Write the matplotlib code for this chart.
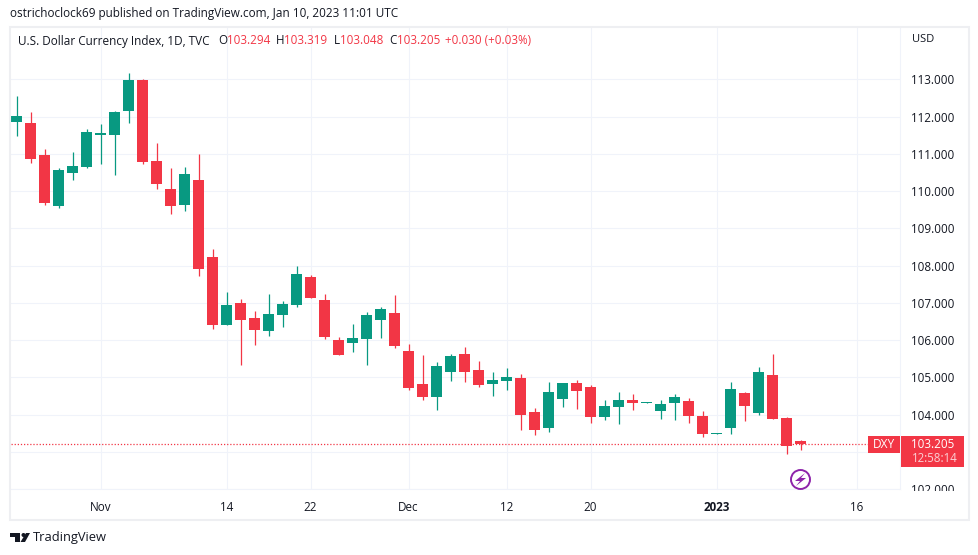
import matplotlib
matplotlib.use("Agg")
import matplotlib.pyplot as plt
from matplotlib.patches import Circle, Polygon, Rectangle
from matplotlib.transforms import Bbox

plt.rcParams["font.family"] = ["Open Sans", "DejaVu Sans"]

# daily candles
opens = [111.85, 111.82, 110.96, 109.61, 110.48, 110.64, 111.50, 111.50, 112.15, 112.98,
         110.80, 110.06, 109.62, 110.30, 108.22, 106.41, 106.99, 106.59, 106.24, 106.67,
         106.94, 107.69, 107.07, 106.00, 105.92, 106.02, 106.53, 106.72, 105.71, 104.82,
         104.47, 105.14, 105.63, 105.20, 104.82, 104.90, 104.98, 104.07, 103.64, 104.42,
         104.85, 104.74, 103.94, 104.20, 104.39, 104.31, 104.09, 104.31, 104.36, 103.97,
         103.48, 103.64, 104.58, 104.04, 105.06, 103.91, 103.294]
highs = [112.55, 112.12, 111.12, 110.61, 111.04, 111.66, 111.80, 112.15, 113.16, 113.00,
         111.29, 110.61, 110.64, 110.99, 108.44, 107.29, 107.10, 106.78, 107.24, 107.05,
         107.99, 107.75, 107.24, 106.08, 106.43, 106.75, 106.88, 107.21, 105.90, 105.60,
         105.41, 105.63, 105.82, 105.44, 105.14, 105.25, 105.09, 104.17, 104.87, 104.85,
         104.93, 104.79, 104.39, 104.60, 104.55, 104.33, 104.39, 104.55, 104.44, 104.09,
         103.51, 104.87, 104.60, 105.28, 105.63, 103.94, 103.319]
lows = [111.47, 110.75, 109.63, 109.55, 110.30, 110.63, 110.72, 110.42, 111.82, 110.72,
        110.06, 109.38, 109.46, 107.72, 106.29, 106.40, 105.33, 105.87, 106.10, 106.35,
        106.88, 107.12, 106.02, 105.59, 105.68, 105.33, 106.05, 105.79, 104.66, 104.39,
        104.12, 104.90, 104.88, 104.74, 104.50, 104.66, 103.59, 103.45, 103.54, 104.20,
        104.15, 103.78, 103.86, 103.75, 104.12, 104.31, 103.89, 103.86, 103.78, 103.40,
        103.48, 103.48, 103.83, 103.99, 103.89, 102.95, 103.048]
closes = [112.01, 110.86, 109.69, 110.57, 110.67, 111.58, 111.56, 112.12, 112.98, 110.77,
          110.19, 109.60, 110.46, 107.92, 106.41, 106.94, 106.53, 106.26, 106.70, 106.97,
          107.77, 107.13, 106.08, 105.60, 106.05, 106.67, 106.83, 105.84, 104.71, 104.47,
          105.30, 105.57, 105.14, 104.79, 104.93, 105.01, 103.99, 103.59, 104.60, 104.85,
          104.63, 103.94, 104.23, 104.39, 104.31, 104.33, 104.28, 104.47, 103.97, 103.48,
          103.51, 104.69, 104.23, 105.14, 103.89, 103.16, 103.205]

date_ticks = [6, 15, 21, 28, 35, 41, 50, 60]
date_labels = ["Nov", "14", "22", "Dec", "12", "20", "2023", "16"]
price_ticks = [102, 104, 105, 106, 107, 108, 109, 110, 111, 112, 113]
grid_prices = [102, 103, 104, 105, 106, 107, 108, 109, 110, 111, 112, 113]
last_price = 103.205

RED = "#F23645"
GREEN = "#089981"
GRID = "#F0F3FA"
TEXT = "#131722"
W, H = 979, 555

fig = plt.figure(figsize=(W / 100, H / 100), dpi=100, facecolor="white")

# price panel, 11..900 px across and 28..489 px down
ax = fig.add_axes([11 / W, 1 - 489 / H, 889 / W, 461 / H])
ax.set_xlim(-0.393, 63.107)
ax.set_ylim(102.008, 114.377)

for p in grid_prices:
    ax.axhline(p, color=GRID, lw=0.8, zorder=0)
for d in date_ticks:
    ax.axvline(d, color=GRID, lw=0.8, zorder=0)

for i in range(len(opens)):
    color = GREEN if closes[i] >= opens[i] else RED
    ax.vlines(i, lows[i], highs[i], color=color, lw=0.9, zorder=2)
    bottom = min(opens[i], closes[i])
    ax.bar(i, abs(closes[i] - opens[i]), bottom=bottom, width=0.79, color=color, lw=0, zorder=3)

ax.axhline(last_price, color=RED, lw=0.9, ls=(0, (1, 1.5)), zorder=4)

ax.yaxis.tick_right()
ax.set_yticks(price_ticks)
ax.set_yticklabels([f"{p:.3f}" for p in price_ticks], fontsize=8.4, color=TEXT)
ax.set_xticks(date_ticks)
ax.set_xticklabels(date_labels, fontsize=8.4, color=TEXT)
ax.get_xticklabels()[6].set_fontweight("bold")
ax.tick_params(axis="both", length=0)
ax.tick_params(axis="y", pad=8)
ax.tick_params(axis="x", pad=8.5)
for side in ["top", "left"]:
    ax.spines[side].set_visible(False)
for side in ["bottom", "right"]:
    ax.spines[side].set_color(GRID)

# the lowest price label is cut off by the time axis
low_label = ax.get_yticklabels()[0]
low_label.set_clip_on(True)
low_label.set_clip_box(Bbox([[900, H - 491], [969, H - 470]]))

# overlay in pixel coordinates for frame, header and badges
top = fig.add_axes([0, 0, 1, 1], facecolor="none")
top.set_xlim(0, W)
top.set_ylim(H, 0)
top.axis("off")

top.add_patch(Rectangle((10, 27), 959, 493, fill=False, ec="#EEEFF2", lw=1.5))

top.text(10, 14, "ostrichoclock69 published on TradingView.com, Jan 10, 2023 11:01 UTC",
         fontsize=8.44, color=TEXT, va="center")
top.text(18, 41, "U.S. Dollar Currency Index, 1D, TVC", fontsize=8.5, color=TEXT, va="center")
for x, label, color in [(218, "O", TEXT), (227, "103.294", RED), (276, "H", TEXT), (284, "103.319", RED),
                        (334, "L", TEXT), (340, "103.048", RED), (389, "C", TEXT), (397, "103.205", RED),
                        (445.5, "+0.030 (+0.03%)", RED)]:
    top.text(x, 41, label, fontsize=8.4, color=color, va="center")
top.text(912, 40, "USD", fontsize=8, color=TEXT, va="center")

top.add_patch(Rectangle((868, 436), 32, 17, fc=RED, ec="none"))
top.add_patch(Rectangle((901, 436), 63, 31, fc=RED, ec="none"))
top.text(884, 444.5, "DXY", fontsize=8.6, color="white", ha="center", va="center")
top.text(911.5, 444.5, "103.205", fontsize=8.4, color="white", va="center")
top.text(911.5, 459, "12:58:14", fontsize=8.3, color="#FBD0D4", va="center")

# lightning icon
top.add_patch(Circle((800.5, 479.5), 9.5, fill=False, ec="#8E24AA", lw=1.4))
top.add_patch(Polygon([(805, 473), (795, 481), (800, 481), (796, 486), (806, 478), (801, 478)],
                      fc="#8E24AA", ec="none"))

# TradingView logo
top.add_patch(Polygon([(10, 533), (20, 533), (20, 542), (15, 542), (15, 537), (10, 537)], fc=TEXT, ec="none"))
top.add_patch(Circle((23.5, 535), 2, fc=TEXT, ec="none"))
top.add_patch(Polygon([(26, 533), (30, 533), (25, 542), (20.5, 542)], fc=TEXT, ec="none"))
top.text(33, 538, "TradingView", fontsize=9.3, color=TEXT, va="center")

fig.savefig("out.png", dpi=100)
